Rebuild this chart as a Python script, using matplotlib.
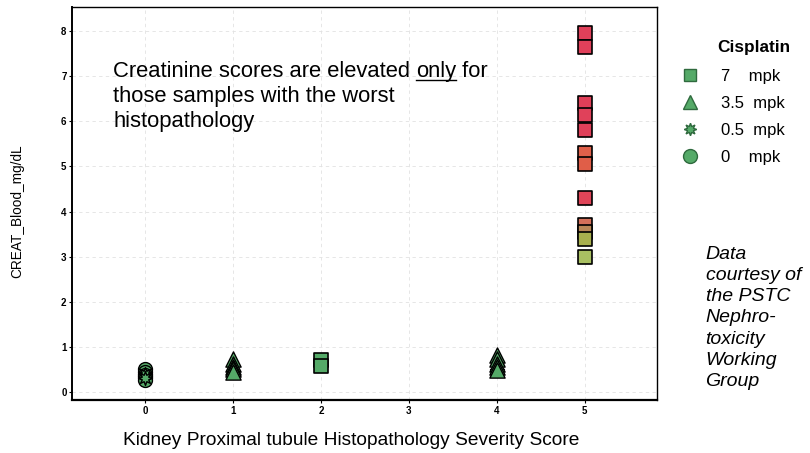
import numpy as np
import matplotlib.pyplot as plt
from matplotlib.lines import Line2D

plt.rcParams['font.family'] = ['Liberation Sans', 'DejaVu Sans']

# data
score_7 = [2, 2, 5, 5, 5, 5, 5, 5, 5, 5, 5, 5, 5, 5]
creat_7 = [0.70, 0.57, 7.95, 7.65, 6.40, 6.15, 5.80, 5.30, 5.05, 4.30, 3.70, 3.55, 3.40, 3.00]
color_7 = ['#55aa68', '#55aa68', '#e0405a', '#e0405a', '#e03f58', '#e0415a', '#e0405a',
           '#e0604a', '#e05e48', '#e04558', '#d4705a', '#b98858', '#a8b04e', '#a9c062']

score_35 = [1, 1, 1, 1, 1, 4, 4, 4, 4, 4]
creat_35 = [0.72, 0.62, 0.55, 0.50, 0.45, 0.82, 0.72, 0.62, 0.55, 0.48]

score_05 = [0, 0, 4, 4]
creat_05 = [0.40, 0.30, 0.60, 0.50]

score_0 = [0, 0, 0, 0, 0]
creat_0 = [0.50, 0.45, 0.38, 0.32, 0.27]

green = '#55aa68'
star = (8, 1, 0)

fig = plt.figure(figsize=(8.1, 4.53), dpi=100)
ax = fig.add_axes([0.089, 0.117, 0.722, 0.868])

ax.scatter(score_0, creat_0, s=100, marker='o', c=green, edgecolors='black', linewidths=1.0, zorder=3)
ax.scatter(score_05, creat_05, s=100, marker=star, c=green, edgecolors='black', linewidths=1.0, zorder=3)
ax.scatter(score_35, creat_35, s=120, marker='^', c=green, edgecolors='black', linewidths=1.0, zorder=3)
ax.scatter(score_7, creat_7, s=100, marker='s', c=color_7, edgecolors='black', linewidths=1.2, zorder=3)

ax.set_xlim(-0.83, 5.82)
ax.set_ylim(-0.18, 8.54)
ax.set_xticks(range(6))
ax.set_yticks(range(9))
ax.tick_params(labelsize=7, length=2, width=0.8, pad=2)
for lab in ax.get_xticklabels() + ax.get_yticklabels():
    lab.set_fontweight('bold')
ax.grid(True, color='#e2e2e2', linestyle=(0, (4, 4)), linewidth=0.6)
ax.set_axisbelow(True)
for sp in ax.spines.values():
    sp.set_linewidth(1.0)
ax.spines['bottom'].set_linewidth(1.6)
ax.spines['left'].set_linewidth(1.4)

ax.set_xlabel('Kidney Proximal tubule Histopathology Severity Score', fontsize=13.8)
ax.xaxis.set_label_coords(0.477, -0.082)
ax.set_ylabel('CREAT_Blood_mg/dL', fontsize=9.8)
ax.yaxis.set_label_coords(-0.081, 0.481)

# annotation with underlined "only"
fs = 15.8
x0 = 0.070
t1 = ax.text(x0, 0.822, 'Creatinine scores are elevated ', transform=ax.transAxes, fontsize=fs, va='baseline')
t2 = ax.annotate('only', xy=(1, 0), xycoords=t1, fontsize=fs, va='bottom')
t3 = ax.annotate(' for', xy=(1, 0), xycoords=t2, fontsize=fs, va='bottom')
ax.text(x0, 0.758, 'those samples with the worst', transform=ax.transAxes, fontsize=fs, va='baseline')
ax.text(x0, 0.695, 'histopathology', transform=ax.transAxes, fontsize=fs, va='baseline')
fig.canvas.draw()
bb = t2.get_window_extent().transformed(fig.transFigure.inverted())
fig.add_artist(Line2D([bb.x0, bb.x1], [bb.y0 + 0.003, bb.y0 + 0.003], color='black', lw=1.0,
                      transform=fig.transFigure))

# legend
handles = [
    Line2D([], [], marker='s', ls='', mfc=green, mec='#2f6a3e', ms=9),
    Line2D([], [], marker='^', ls='', mfc=green, mec='#2f6a3e', ms=10),
    Line2D([], [], marker=star, ls='', mfc=green, mec='#2f6a3e', ms=9),
    Line2D([], [], marker='o', ls='', mfc=green, mec='#2f6a3e', ms=10),
]
labels = ['7    mpk', '3.5  mpk', '0.5  mpk', '0    mpk']
fig.text(0.886, 0.896, 'Cisplatin', fontsize=12.4, fontweight='bold', va='center', ha='left')
leg = fig.legend(handles, labels, loc='upper left', bbox_to_anchor=(0.8165, 0.881),
                 frameon=False, fontsize=12, handletextpad=1.05, labelspacing=0.72,
                 handlelength=1.6)

fig.text(0.871, 0.458, 'Data\ncourtesy of\nthe PSTC\nNephro-\ntoxicity\nWorking\nGroup', fontsize=14,
         style='italic', va='top', ha='left', linespacing=1.33)

fig.savefig('out.png', dpi=100)
